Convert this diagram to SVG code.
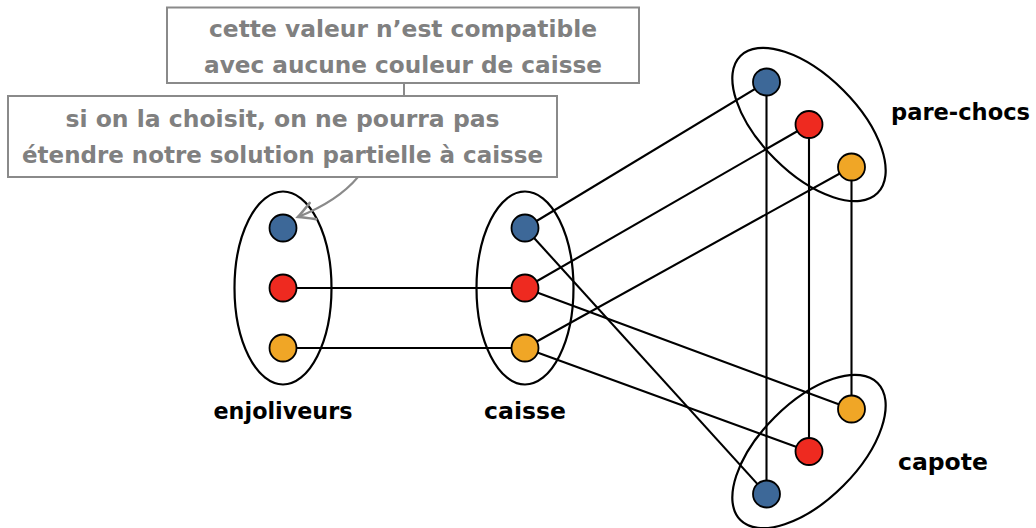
<svg xmlns="http://www.w3.org/2000/svg" width="1036" height="528" viewBox="0 0 1036 528">
  <style>
    .domain { fill: none; stroke: #000; stroke-width: 2.2; }
    .edge { stroke: #000; stroke-width: 2.1; fill: none; }
    .val { stroke: #000; stroke-width: 1.8; }
    .blue { fill: #3d6898; }
    .red { fill: #ee2a20; }
    .orange { fill: #f0a626; }
    .label { font-family: "DejaVu Sans", "Liberation Sans", sans-serif; font-weight: bold; font-size: 23.5px; fill: #000; }
    .note { fill: #fff; stroke: #8a8a8a; stroke-width: 2; }
    .note-text { font-family: "DejaVu Sans", "Liberation Sans", sans-serif; font-weight: bold; font-size: 23.5px; fill: #808080; text-anchor: middle; }
    .note-link { stroke: #8a8a8a; stroke-width: 2; fill: none; }
  </style>
  <defs>
    <marker id="head" markerUnits="userSpaceOnUse" markerWidth="24" markerHeight="24" refX="0" refY="0" viewBox="-14 -9 16 18" orient="auto">
      <path d="M-12,-6.5 Q-4,-2 0,0 Q-4,2 -12,6.5" fill="none" stroke="#8a8a8a" stroke-width="2" stroke-linecap="round"/>
    </marker>
  </defs>

  <rect width="1036" height="528" fill="#fff"/>

  <!-- variable domains -->
  <g id="enjoliveurs">
    <ellipse class="domain" cx="283" cy="288" rx="48.5" ry="96.5"/>
    <text class="label" x="283" y="419" text-anchor="middle" textLength="139" lengthAdjust="spacingAndGlyphs">enjoliveurs</text>
  </g>
  <g id="caisse">
    <ellipse class="domain" cx="525" cy="288" rx="48.5" ry="96.5"/>
    <text class="label" x="525" y="419" text-anchor="middle">caisse</text>
  </g>
  <g id="pare-chocs">
    <ellipse class="domain" cx="0" cy="0" rx="97" ry="48.5" transform="translate(809,124.5) rotate(45)"/>
    <text class="label" x="891" y="120" textLength="139" lengthAdjust="spacingAndGlyphs">pare-chocs</text>
  </g>
  <g id="capote">
    <ellipse class="domain" cx="0" cy="0" rx="97" ry="48.5" transform="translate(809,451.5) rotate(-45)"/>
    <text class="label" x="898" y="470">capote</text>
  </g>

  <!-- compatibility edges -->
  <g id="connectors">
    <line class="edge" x1="283" y1="288" x2="525" y2="288"/>
    <line class="edge" x1="283" y1="348" x2="525" y2="348"/>
    <line class="edge" x1="525" y1="228" x2="766.5" y2="82"/>
    <line class="edge" x1="525" y1="228" x2="766.5" y2="494"/>
    <line class="edge" x1="525" y1="288" x2="809" y2="124.5"/>
    <line class="edge" x1="525" y1="288" x2="851.5" y2="409"/>
    <line class="edge" x1="525" y1="348" x2="851.5" y2="167"/>
    <line class="edge" x1="525" y1="348" x2="809" y2="451.5"/>
    <line class="edge" x1="766.5" y1="82" x2="766.5" y2="494"/>
    <line class="edge" x1="809" y1="124.5" x2="809" y2="451.5"/>
    <line class="edge" x1="851.5" y1="167" x2="851.5" y2="409"/>
    <line class="note-link" x1="404" y1="83" x2="404" y2="96"/>
    <path class="note-link" d="M358,177 Q338,201 298,217" marker-end="url(#head)"/>
  </g>

  <!-- values -->
  <g id="enj-blue"><circle class="val blue" cx="283" cy="228" r="13.5"/></g>
  <g id="enj-red"><circle class="val red" cx="283" cy="288" r="13.5"/></g>
  <g id="enj-orange"><circle class="val orange" cx="283" cy="348" r="13.5"/></g>

  <g id="cai-blue"><circle class="val blue" cx="525" cy="228" r="13.5"/></g>
  <g id="cai-red"><circle class="val red" cx="525" cy="288" r="13.5"/></g>
  <g id="cai-orange"><circle class="val orange" cx="525" cy="348" r="13.5"/></g>

  <g id="pc-blue"><circle class="val blue" cx="766.5" cy="82" r="13.5"/></g>
  <g id="pc-red"><circle class="val red" cx="809" cy="124.5" r="13.5"/></g>
  <g id="pc-orange"><circle class="val orange" cx="851.5" cy="167" r="13.5"/></g>

  <g id="cap-orange"><circle class="val orange" cx="851.5" cy="409" r="13.5"/></g>
  <g id="cap-red"><circle class="val red" cx="809" cy="451.5" r="13.5"/></g>
  <g id="cap-blue"><circle class="val blue" cx="766.5" cy="494" r="13.5"/></g>

  <!-- annotations -->
  <g id="note-incompatible">
    <rect class="note" x="167" y="7.5" width="472" height="75.5"/>
    <text class="note-text" x="403" y="37" textLength="388" lengthAdjust="spacingAndGlyphs">cette valeur n’est compatible</text>
    <text class="note-text" x="403" y="73" textLength="398" lengthAdjust="spacingAndGlyphs">avec aucune couleur de caisse</text>
  </g>
  <g id="note-extend">
    <rect class="note" x="8" y="96" width="549" height="81"/>
    <text class="note-text" x="282.5" y="127">si on la choisit, on ne pourra pas</text>
    <text class="note-text" x="282.5" y="163" textLength="521" lengthAdjust="spacingAndGlyphs">étendre notre solution partielle à caisse</text>
  </g>
</svg>
